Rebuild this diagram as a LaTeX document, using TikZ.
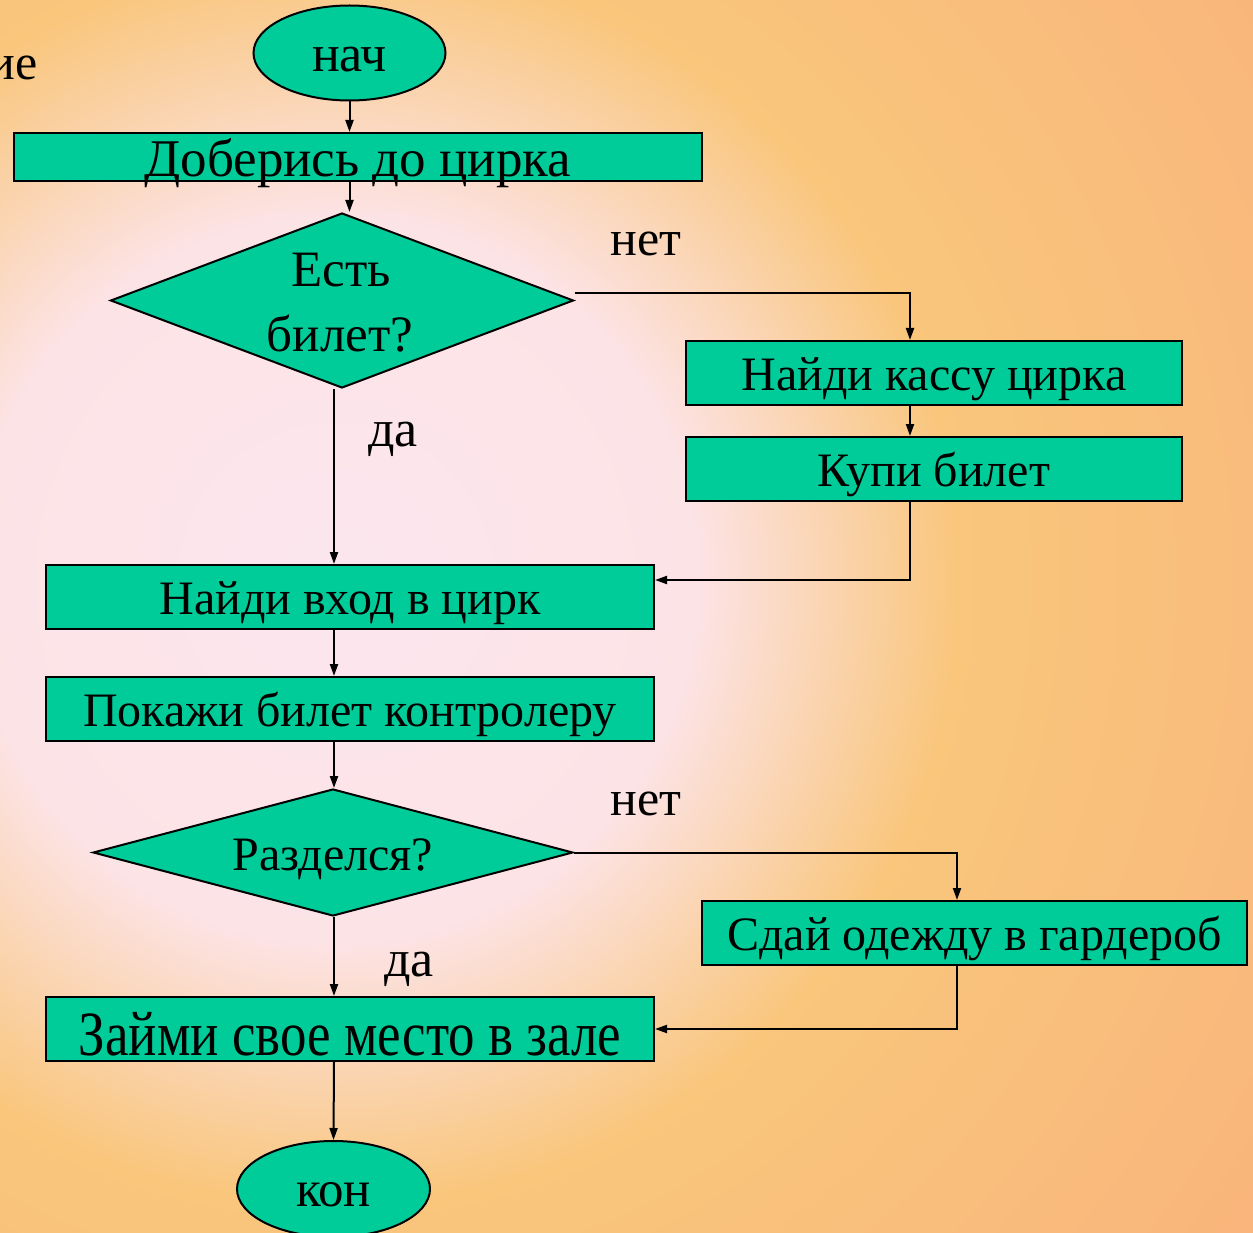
\documentclass[tikz,border=0pt]{standalone}
\usepackage{fontspec}
\usepackage{graphicx}
\setmainfont{Liberation Serif}
\usetikzlibrary{shapes.geometric,arrows.meta,calc}
\definecolor{teal1}{HTML}{00CC99}
\definecolor{bgpink}{HTML}{FCE6EE}
\definecolor{bgpinkb}{HTML}{FCE3E6}
\definecolor{bgor}{HTML}{F9C67C}
\definecolor{bgsal}{HTML}{F9A87B}
\definecolor{bgyel}{HTML}{FCCF9A}
\definecolor{bgbei}{HTML}{FCDFC2}
\pgfdeclareradialshading{bgshade}{\pgfpoint{0bp}{0bp}}{color(0bp)=(bgpink); color(7.5bp)=(bgpinkb); color(13bp)=(bgor); color(31bp)=(bgsal); color(40.5bp)=(bgyel); color(50bp)=(bgbei)}
\begin{document}
\begin{tikzpicture}[x=1pt,y=-1pt,
  box/.style={draw=black, line width=2pt, fill=teal1, rectangle, inner sep=0pt,
    minimum height=64pt, text height=34pt, text depth=0pt, font=\fontsize{48}{58}\selectfont},
  oval/.style={draw=black, line width=2pt, fill=teal1, ellipse, inner sep=0pt,
    minimum width=192pt, minimum height=95pt, font=\fontsize{52}{60}\selectfont},
  dia/.style={draw=black, line width=2pt, fill=teal1, diamond, inner sep=0pt},
  lbl/.style={font=\fontsize{50}{58}\selectfont, inner sep=0pt, anchor=base},
  conn/.style={line width=2pt, -{Triangle[length=12pt,width=8pt]}}
]
\useasboundingbox (0,0) rectangle (1253,1233);
\begin{scope}
  \clip (0,0) rectangle (1253,1233);
  \shade[shading=bgshade] (335,580) circle[radius=1200];
\end{scope}

\node[lbl, anchor=base east] (frag) at (38,80) {ие};

% nodes
\node[oval, text height=38pt] (start) at (349.5,53) {нач};
\node[box, minimum width=688pt, minimum height=48pt, text height=40pt, font=\fontsize{53}{60}\selectfont] (b1) at (358,157) {Доберись до цирка};
\node[dia, minimum width=463pt, minimum height=175pt] (d1) at (342,300.5) {};
\node[lbl, font=\fontsize{51}{60}\selectfont] (d1a) at (341,287) {Есть};
\node[lbl, font=\fontsize{51}{60}\selectfont] (d1b) at (340,352) {билет?};
\node[box, minimum width=496pt] (b2) at (934,373) {Найди кассу цирка};
\node[box, minimum width=496pt] (b3) at (934,469) {Купи билет};
\node[box, minimum width=608pt] (b4) at (350,597) {Найди вход в цирк};
\node[box, minimum width=608pt] (b5) at (350,709) {Покажи билет контролеру};
\node[dia, minimum width=480pt, minimum height=127pt] (d2) at (333,852.5) {};
\node[lbl, font=\fontsize{48}{58}\selectfont] (d2a) at (333,870) {Разделся?};
\node[box, minimum width=545pt] (b6) at (974.5,933) {Сдай одежду в гардероб};
\node[box, minimum width=608pt, text height=52pt, font=\fontsize{63}{70}\selectfont] (b7) at (350,1029) {\scalebox{0.84}[1]{Займи свое место в зале}};
\node[oval, minimum width=193pt, minimum height=96pt, text height=36pt, font=\fontsize{51}{60}\selectfont] (end) at (333.5,1189) {кон};

% labels
\node[lbl] (n1) at (646,256) {нет};
\node[lbl, font=\fontsize{52}{60}\selectfont] (y1) at (393,446) {да};
\node[lbl] (n2) at (646,815) {нет};
\node[lbl, font=\fontsize{52}{60}\selectfont] (y2) at (409,976) {да};

% helper coordinates
\coordinate (c1) at (910,0);
\coordinate (c2) at (0,580);
\coordinate (c3) at (957,0);
\coordinate (colx) at (334,0);

% connectors
\draw[conn] (start.south) -- (start.south |- b1.north);
\draw[conn] (b1.south -| start) -- (d1.north -| start);
\draw[conn] ($(d1.east)+(0,-7)$) -| (c1 |- b2.north);
\draw[conn] (b2.south -| c1) -- (b3.north -| c1);
\draw[conn] (b3.south -| c1) |- (b4.east |- c2);
\draw[conn] (d1.south -| colx) -- (b4.north -| colx);
\draw[conn] (b4.south -| colx) -- (b5.north -| colx);
\draw[conn] (b5.south -| colx) -- (d2.north -| colx);
\draw[conn] (d2.east) -| (c3 |- b6.north);
\draw[conn] (b6.south -| c3) |- (b7.east);
\draw[conn] (d2.south -| colx) -- (b7.north -| colx);
\draw[conn] (b7.south -| colx) -- (end.north);
\end{tikzpicture}
\end{document}
